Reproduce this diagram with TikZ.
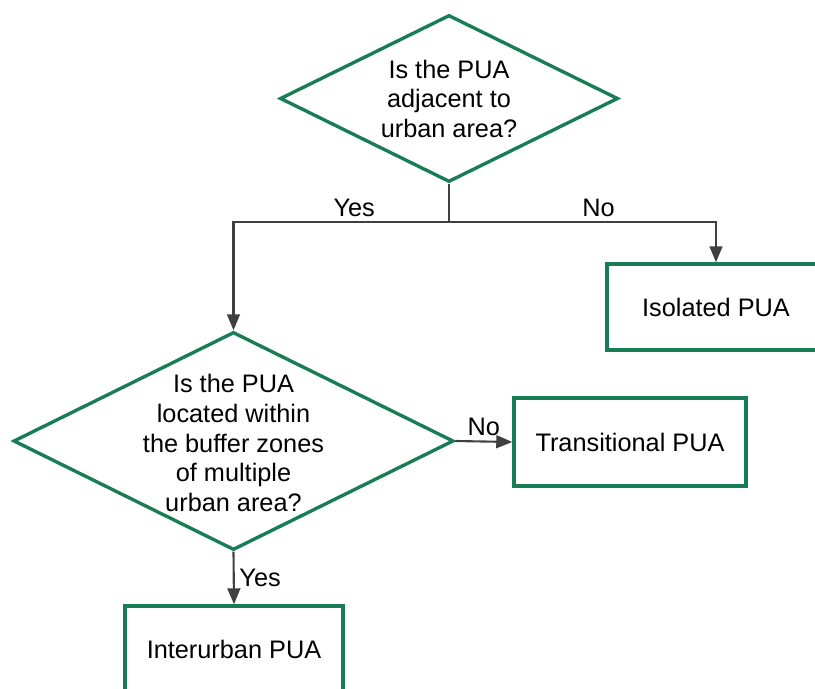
\documentclass[tikz,border=0pt]{standalone}
\usepackage{fontspec}
\setmainfont{Liberation Sans}
\usetikzlibrary{arrows.meta,positioning,shapes.geometric,calc}
\definecolor{boxgreen}{RGB}{24,124,84}
\definecolor{linegray}{RGB}{64,64,64}

\begin{document}
\begin{tikzpicture}[x=0.025cm, y=-0.025cm, >={Triangle[length=0.4cm,width=0.32cm]},
    font=\fontsize{18}{21}\selectfont]
    \tikzstyle{decision}=[diamond,draw=boxgreen,line width=2.4pt,inner sep=0pt,text=black]
    \tikzstyle{result}=[rectangle,draw=boxgreen,line width=2.4pt,text=black,minimum width=5.45cm,minimum height=2.15cm]
    \tikzstyle{link}=[draw=linegray,line width=1.5pt]
    \useasboundingbox (0,0) rectangle (815,689);

    \node[decision,minimum width=8.45cm,minimum height=4.175cm] (adj) at (449,98.5) {};
    \node[align=center] at (adj) {Is the PUA\\adjacent to\\urban area?};
    \node[decision,minimum width=11cm,minimum height=5.45cm]    (multi) at (233.5,441) {};
    \node[align=center] at ($(multi)+(0,2)$) {Is the PUA\\located within\\the buffer zones\\of multiple\\urban area?};

    \node[result]                                       (iso)   at (716,307)   {Isolated PUA};
    \node[result,minimum width=5.8cm,minimum height=2.2cm] (trans) at (630,442) {Transitional PUA};
    \node[result]                                       (inter) at (234,649)   {Interurban PUA};

    \coordinate (split) at (449,222);

    \path[link] (adj.south) -- (split);
    \draw[link,->] (split) -| node[pos=0.22,above]{Yes} (multi.north);
    \draw[link,->] (split) -| node[pos=0.28,above]{No}  (iso.north);
    \draw[link,->] (multi.east) -- node[above]{No} (trans.west);
    \draw[link,->] (multi.south) -- node[right]{Yes} (inter.north);

\end{tikzpicture}
\end{document}
